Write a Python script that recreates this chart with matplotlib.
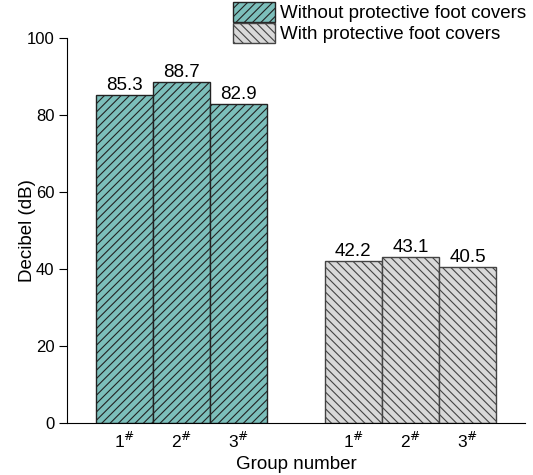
import numpy as np
import matplotlib.pyplot as plt

plt.rcParams['font.family'] = ['Liberation Sans', 'DejaVu Sans']
plt.rcParams['hatch.linewidth'] = 0.8

# === Data ===
groups = ["1", "2", "3"]
without_covers = [85.3, 88.7, 82.9]
with_covers = [42.2, 43.1, 40.5]
series_labels = ["Without protective foot covers", "With protective foot covers"]

fig = plt.figure(figsize=(5.33, 4.75), dpi=100)
ax = fig.add_axes([0.1257, 0.1095, 0.859, 0.8105])

x1 = np.arange(len(groups))
x2 = x1 + len(groups) + 1

b1 = ax.bar(x1, without_covers, width=1.0, color="#7cbfbb", edgecolor="#222222",
            hatch="////", linewidth=1.0, label=series_labels[0])
b2 = ax.bar(x2, with_covers, width=1.0, color="#d9d9d9", edgecolor="#444444",
            hatch="\\\\\\\\", linewidth=1.0, label=series_labels[1])

for bars, vals in [(b1, without_covers), (b2, with_covers)]:
    for b, v in zip(bars, vals):
        ax.text(b.get_x() + b.get_width() / 2, v + 0.2, f"{v}", ha="center",
                va="bottom", fontsize=13.5)

ax.set_xlim(-1, 7)
ax.set_ylim(0, 100)
ax.set_yticks([0, 20, 40, 60, 80, 100])
ax.set_xticks(list(x1) + list(x2))
ax.set_xticklabels([rf"{g}$^{{\#}}$" for g in groups] * 2, fontsize=12.5)
ax.tick_params(axis="x", length=0, pad=6)
ax.tick_params(axis="y", labelsize=12, length=6, direction="out", pad=3)
ax.spines["top"].set_visible(False)
ax.spines["right"].set_visible(False)
ax.set_ylabel("Decibel (dB)", fontsize=13.5)
ax.yaxis.set_label_coords(-0.068, 0.5)
ax.set_xlabel("Group number", fontsize=13.5, labelpad=3)

fig.legend(loc="upper left", bbox_to_anchor=(0.437, 0.996), frameon=False,
           fontsize=13.5, handlelength=2.24, handleheight=1.25, handletextpad=0.27,
           labelspacing=0.05, borderpad=0, borderaxespad=0)

fig.savefig("out.png", dpi=100)
